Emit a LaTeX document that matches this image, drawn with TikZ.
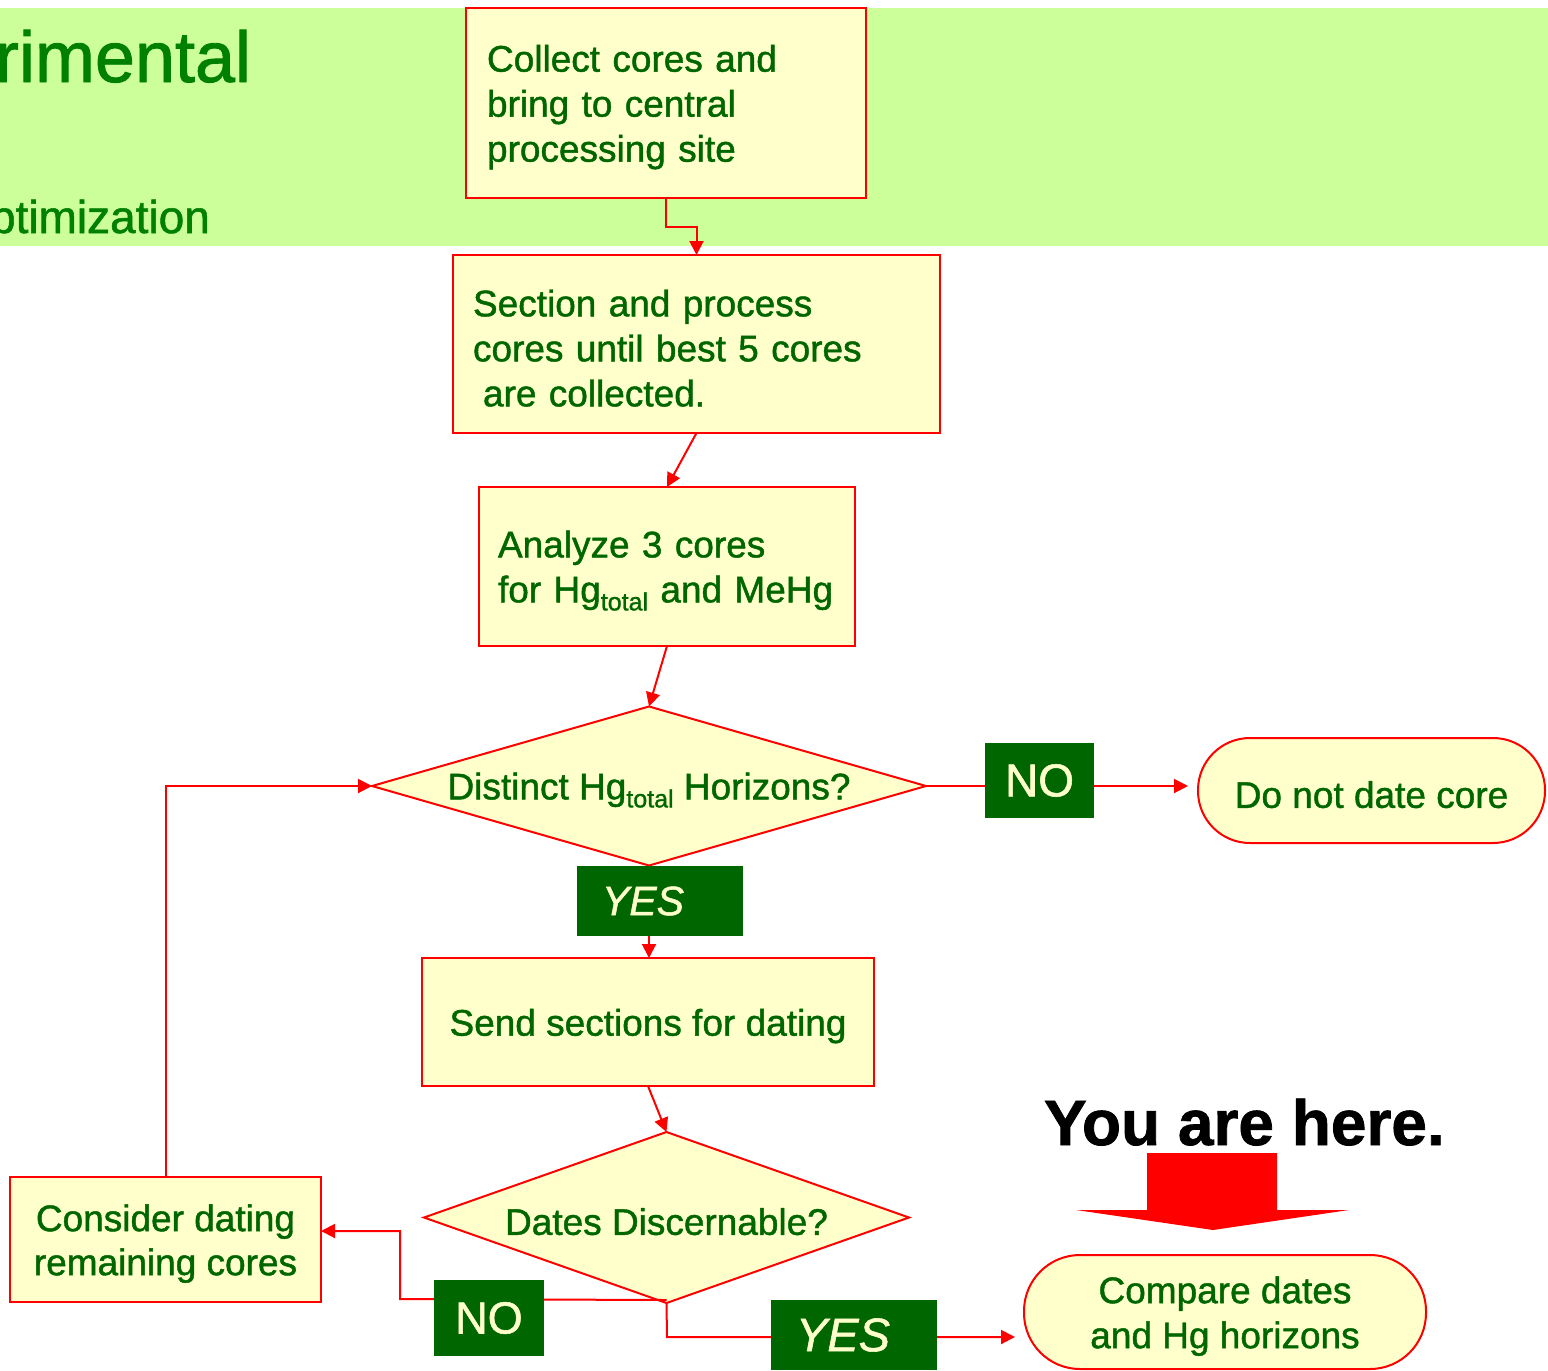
\documentclass[tikz,border=0pt]{standalone}
\usepackage{fontspec}
\setmainfont{Liberation Sans}[FakeBold=1.2]
\usetikzlibrary{shapes.geometric,arrows.meta,calc}
\definecolor{band}{HTML}{CCFF99}
\definecolor{boxfill}{HTML}{FFFFCC}
\definecolor{dgreen}{HTML}{006600}
\definecolor{tgreen}{HTML}{008000}
\definecolor{cred}{HTML}{FF0000}
\newcommand{\subtot}{\raisebox{-8pt}{\fontsize{25}{25}\selectfont total}}
\newcommand{\tp}{\rule{0pt}{35pt}}
\begin{document}
\begin{tikzpicture}[x=1pt,y=-1pt,
  every node/.style={inner sep=0pt, outer sep=0pt},
  procbox/.style={rectangle, draw=cred, line width=2.2pt, fill=boxfill, text=dgreen,
    font=\fontsize{37}{45}\selectfont},
  decbox/.style={diamond, draw=cred, line width=2pt, fill=boxfill, text=dgreen,
    font=\fontsize{37}{45}\selectfont},
  termbox/.style={rectangle, draw=cred, line width=2pt, fill=boxfill, text=dgreen,
    font=\fontsize{37}{45}\selectfont},
  lbl/.style={rectangle, fill=dgreen, text=boxfill},
  conn/.style={draw=cred, line width=2pt},
  arr/.style={conn, -{Triangle[length=14pt,width=14pt]}}
]
\useasboundingbox (0,0) rectangle (1548,1371);
\fill[band] (0,8) rectangle (1548,246);
\begin{scope}
\clip (0,0) rectangle (1548,1371);
\node[anchor=base west, text=tgreen, font=\fontsize{72}{72}\selectfont] (ttl1) at (-5,82) {rimental};
\node[anchor=base west, text=tgreen, font=\fontsize{46}{46}\selectfont] (ttl2) at (-10,233) {ptimization};
\end{scope}

% process boxes
\node[procbox, minimum width=400, minimum height=190, text width=358, align=left] (box1) at (666,103)
  {\tp Collect cores and\\bring to central\\processing site};
\node[procbox, minimum width=487, minimum height=178, text width=447, align=left] (box2) at (696.5,344)
  {\tp Section and process\\cores until best 5 cores\\\hspace*{10pt}are collected.};
\node[procbox, minimum width=376, minimum height=159, text width=338, align=left] (box3) at (667,566.5)
  {\tp Analyze 3 cores\\for Hg\subtot{} and MeHg};
\node[decbox, aspect=3.48, minimum width=554, minimum height=159] (d1) at (649,786)
  {\tp Distinct Hg\subtot{} Horizons?};
\node[termbox, rounded corners=52, minimum width=347, minimum height=105] (t1) at (1371.5,790.5)
  {\tp Do not date core};
\node[procbox, minimum width=452, minimum height=128] (box4) at (648,1022)
  {\tp Send sections for dating};
\node[decbox, aspect=2.84, minimum width=485, minimum height=171] (d2) at (666.5,1217.5)
  {\tp Dates Discernable?};
\node[procbox, minimum width=311, minimum height=125, align=center, font=\fontsize{37}{44}\selectfont] (box5) at (165.5,1239.5)
  {\tp Consider dating\\remaining cores};
\node[termbox, rounded corners=56, minimum width=402, minimum height=114, align=center] (t2) at (1225,1312)
  {\tp Compare dates\\and Hg horizons};

% connectors
\draw[arr] (box1.south) -- ++(0,29) -| (box2.north);
\draw[arr] (box2.south) -- (box3.north);
\draw[arr] (box3.south) -- (d1.north);
\draw[conn] (d1.east) -- (d1.east -| 1000,0);
\draw[arr, shorten >=10pt] (1090,0 |- d1.east) -- (t1.west |- d1.east);
\draw[arr] (d1.south) -- (d1.south |- box4.north);
\draw[arr] (box4.south) -- (d2.north);
\coordinate (nojog) at (400,1299);
\coordinate (yesjog) at (667,1337);
\coordinate (yesend) at (1015,1337);
\draw[arr] ($(d2.south)+(0,-3)$) -- (nojog) |- ($(box5.east)+(0,-8.5)$);
\draw[arr] (d2.south) -- (yesjog) -- (yesend);
\draw[arr] (box5.north) |- (d1.west);

% labels
\node[lbl, minimum width=109, minimum height=75, font=\fontsize{46}{46}\selectfont] (no1) at (1039.5,780.5) {NO};
\node[lbl, minimum width=166, minimum height=70, text width=116, align=left, font=\fontsize{41}{41}\selectfont\itshape] (yes1) at (660,901) {YES};
\node[lbl, minimum width=110, minimum height=76, font=\fontsize{45}{45}\selectfont] (no2) at (489,1318) {NO};
\node[lbl, minimum width=166, minimum height=70, text width=116, align=left, font=\fontsize{47}{47}\selectfont\itshape] (yes2) at (854,1335) {YES};

% you are here
\node[anchor=base west, font=\fontsize{64}{64}\selectfont\bfseries] (here) at (1044,1145) {You are here.};
\fill[cred] (1147,1153) -- (1277,1153) -- (1277,1210) -- (1349,1210) -- (1213,1230) -- (1076,1210) -- (1147,1210) -- cycle;
\end{tikzpicture}
\end{document}
